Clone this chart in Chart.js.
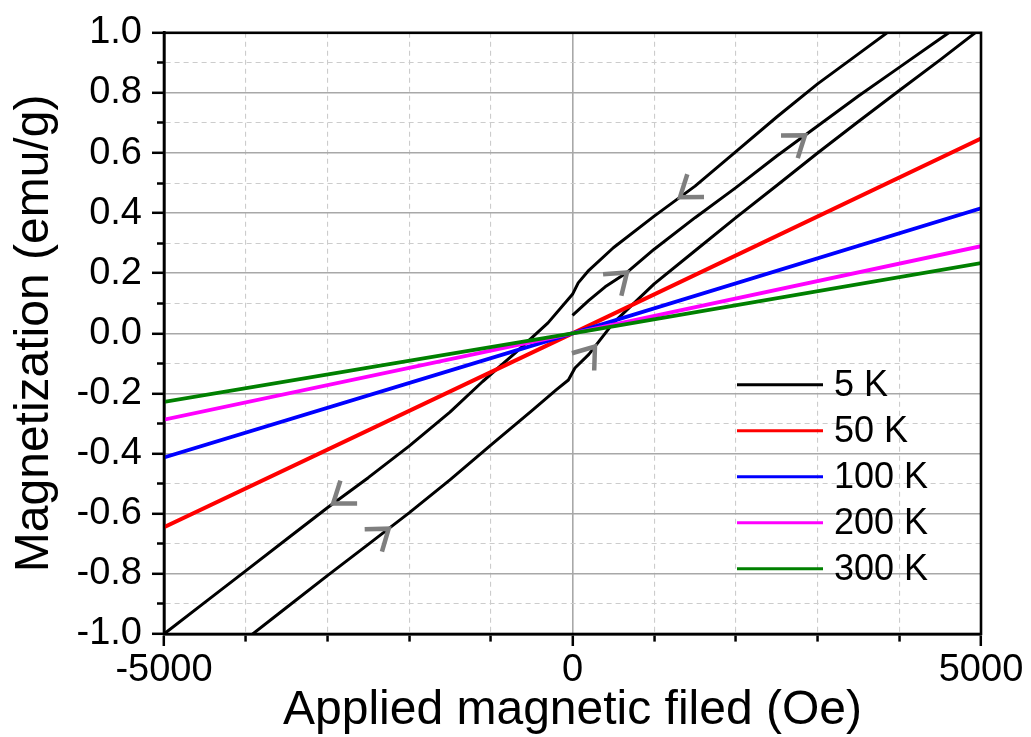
<!DOCTYPE html>
<html>
<head>
<meta charset="utf-8">
<script src="https://cdn.jsdelivr.net/npm/chart.js@4/dist/chart.umd.min.js"></script>
<style>
html,body{margin:0;padding:0;background:#ffffff;overflow:hidden}
canvas{display:block}
</style>
</head>
<body>
<canvas id="c" width="1031" height="737"></canvas>
<script>
// ---------------- data ----------------
// 5 K: initial (virgin) curve, 0 -> +5000 Oe
const H_5K_VIRGIN = [0, 200, 400, 663, 1000, 1500, 2000, 2500, 3000, 3500, 4000, 4500, 5000];
const M_5K_VIRGIN = [0.06, 0.11, 0.155, 0.202, 0.28, 0.385, 0.485, 0.59, 0.69, 0.79, 0.885, 0.98, 1.075];
// 5 K: descending branch, +5000 -> -5000 Oe
const H_5K_DOWN = [5000, 4500, 4000, 3500, 3000, 2500, 2000, 1500, 1000, 500, 200, 70, 0, -300, -700, -1100, -1500, -2000, -2500, -3000, -3500, -4000, -4500, -5000];
const M_5K_DOWN = [1.23, 1.125, 1.03, 0.93, 0.83, 0.72, 0.605, 0.49, 0.39, 0.285, 0.21, 0.168, 0.13, 0.035, -0.065, -0.16, -0.262, -0.375, -0.48, -0.58, -0.685, -0.79, -0.895, -1.0];
// 5 K: ascending branch, -5000 -> +5000 Oe
const H_5K_UP = [-5000, -4500, -4000, -3500, -3000, -2500, -2000, -1500, -1000, -500, -200, -50, 30, 200, 500, 1000, 1500, 2000, 2500, 3000, 3500, 4000, 4500, 5000];
const M_5K_UP = [-1.225, -1.12, -1.018, -0.912, -0.806, -0.702, -0.597, -0.487, -0.372, -0.258, -0.188, -0.155, -0.115, -0.07, 0.035, 0.165, 0.275, 0.385, 0.492, 0.6, 0.705, 0.808, 0.91, 1.015];
// higher temperatures (linear)
const H_LINEAR = [-5000, 0, 5000];
const M_50K  = [-0.645, 0, 0.648];
const M_100K = [-0.413, 0, 0.416];
const M_200K = [-0.287, 0, 0.290];
const M_300K = [-0.228, 0, 0.234];

// legend
const LEGEND_LABELS = ['5 K', '50 K', '100 K', '200 K', '300 K'];
const LEGEND_COLORS = ['#000000', '#ff0000', '#0000ff', '#ff00ff', '#008000'];

// tick labels
const X_LABELED_TICKS = [-5000, 0, 5000];
const X_TICK_LABELS = ['-5000', '0', '5000'];
const Y_TICK_LABELS = ['-1.0', '-0.8', '-0.6', '-0.4', '-0.2', '0.0', '0.2', '0.4', '0.6', '0.8', '1.0'];

// sweep-direction arrows: branch, field position, direction (+1 = increasing field)
const ARROW_BRANCH = ['down', 'virgin', 'virgin', 'up', 'down', 'up'];
const ARROW_FIELD  = [1316, 2846, 667, 275, -2930, -2250];
const ARROW_DIR    = [-1, 1, 1, 1, -1, 1];

// ---------------- helpers ----------------
const pts = (hs, ms) => hs.map((h, i) => ({x: h, y: ms[i]}));
const BRANCHES = {
  virgin: [H_5K_VIRGIN, M_5K_VIRGIN],
  down: [H_5K_DOWN, M_5K_DOWN],
  up: [H_5K_UP, M_5K_UP]
};
const FONT = "'Liberation Sans', Arial, Helvetica, sans-serif";
const isMajorX = v => Math.abs(v % 5000) < 1e-6;
const isMajorY = v => Math.abs(Math.round(v * 10)) % 2 === 0;

const lineDs = (label, data, color, width, order) => ({
  label, data, borderColor: color, backgroundColor: color, borderWidth: width,
  pointRadius: 0, pointHoverRadius: 0, fill: false, tension: 0, order,
  borderJoinStyle: 'round'
});

// frame, arrows and legend
const decorations = {
  id: 'decorations',
  afterDatasetsDraw(chart) {
    const {ctx, chartArea: a, scales: {x, y}} = chart;
    // arrows
    ctx.save();
    ctx.strokeStyle = '#7f7f7f';
    ctx.lineWidth = 4.5;
    ctx.lineCap = 'butt';
    ctx.lineJoin = 'miter';
    ARROW_FIELD.forEach((h, k) => {
      const [hs, ms] = BRANCHES[ARROW_BRANCH[k]];
      let i = 0;
      for (; i < hs.length - 1; i++) {
        const lo = Math.min(hs[i], hs[i + 1]), hi = Math.max(hs[i], hs[i + 1]);
        if (h >= lo && h <= hi) break;
      }
      const t = (h - hs[i]) / (hs[i + 1] - hs[i]);
      const m = ms[i] + t * (ms[i + 1] - ms[i]);
      const px = x.getPixelForValue(h), py = y.getPixelForValue(m);
      const lo = hs[i] < hs[i + 1] ? i : i + 1, hi = lo === i ? i + 1 : i;
      let dx = x.getPixelForValue(hs[hi]) - x.getPixelForValue(hs[lo]);
      let dy = y.getPixelForValue(ms[hi]) - y.getPixelForValue(ms[lo]);
      const len = Math.hypot(dx, dy);
      dx /= len; dy /= len;
      const bx = -ARROW_DIR[k] * dx, by = -ARROW_DIR[k] * dy;
      const ang = 36 * Math.PI / 180, L = 24;
      const r = (s) => [bx * Math.cos(s) - by * Math.sin(s), bx * Math.sin(s) + by * Math.cos(s)];
      const [ax1, ay1] = r(ang), [ax2, ay2] = r(-ang);
      ctx.beginPath();
      ctx.moveTo(px + ax1 * L, py + ay1 * L);
      ctx.lineTo(px, py);
      ctx.lineTo(px + ax2 * L, py + ay2 * L);
      ctx.stroke();
    });
    ctx.restore();
    // frame
    ctx.save();
    ctx.strokeStyle = '#000';
    ctx.lineWidth = 2.6;
    ctx.strokeRect(a.left, a.top, a.right - a.left, a.bottom - a.top);
    ctx.restore();
  },
  afterDraw(chart) {
    const {ctx, chartArea: a} = chart;
    ctx.save();
    const x0 = a.right - 244, x1 = a.right - 158, tx = a.right - 147;
    const y0 = a.top + 352, dyRow = 46;
    ctx.font = '36px ' + FONT;
    ctx.textBaseline = 'middle';
    ctx.textAlign = 'left';
    LEGEND_LABELS.forEach((lab, i) => {
      const yy = y0 + i * dyRow;
      ctx.strokeStyle = LEGEND_COLORS[i];
      ctx.lineWidth = 3;
      ctx.beginPath();
      ctx.moveTo(x0, yy);
      ctx.lineTo(x1, yy);
      ctx.stroke();
      ctx.fillStyle = '#000';
      ctx.fillText(lab, tx, yy + 1);
    });
    ctx.restore();
  }
};

new Chart(document.getElementById('c'), {
  type: 'line',
  data: {
    datasets: [
      lineDs('5 K', pts(H_5K_VIRGIN, M_5K_VIRGIN), '#000000', 3, 7),
      lineDs('5 K', pts(H_5K_DOWN, M_5K_DOWN), '#000000', 3, 6),
      lineDs('5 K', pts(H_5K_UP, M_5K_UP), '#000000', 3, 5),
      lineDs('50 K', pts(H_LINEAR, M_50K), '#ff0000', 4, 4),
      lineDs('100 K', pts(H_LINEAR, M_100K), '#0000ff', 3.8, 3),
      lineDs('200 K', pts(H_LINEAR, M_200K), '#ff00ff', 3.8, 2),
      lineDs('300 K', pts(H_LINEAR, M_300K), '#008000', 3.8, 1)
    ]
  },
  options: {
    responsive: false,
    animation: false,
    devicePixelRatio: 1,
    events: [],
    layout: {padding: {top: 31, right: 50, left: 0, bottom: 0}},
    plugins: {legend: {display: false}, tooltip: {enabled: false}, title: {display: false}},
    scales: {
      x: {
        type: 'linear', position: 'bottom', min: -5000, max: 5000,
        afterFit: s => { s.height = 103; },
        ticks: {
          stepSize: 1000, autoSkip: false, maxRotation: 0, padding: 2, color: '#000',
          font: {family: FONT, size: 38},
          callback: v => { const k = X_LABELED_TICKS.indexOf(v); return k >= 0 ? X_TICK_LABELS[k] : ''; }
        },
        grid: {
          color: c => isMajorX(c.tick.value) ? '#a8a8a8' : '#cccccc',
          lineWidth: c => isMajorX(c.tick.value) ? 1.6 : 1.1,
          drawTicks: true, tickLength: 12, tickWidth: 2.5, tickColor: '#000',
          tickBorderDash: c => isMajorX(c.tick.value) ? [] : [6, 40]
        },
        border: {display: true, color: '#000', width: 2.6,
          dash: c => (c.tick && !isMajorX(c.tick.value)) ? [5, 4] : []},
        title: {display: true, text: 'Applied magnetic filed (Oe)', color: '#000',
          font: {family: FONT, size: 48, lineHeight: 1.1}, padding: {top: 0, bottom: 0}}
      },
      y: {
        type: 'linear', position: 'left', min: -1, max: 1,
        afterFit: s => { s.width = 164; },
        ticks: {
          stepSize: 0.1, autoSkip: false, padding: 10, color: '#000',
          font: {family: FONT, size: 38},
          callback: (v, i) => (i % 2 === 0 ? Y_TICK_LABELS[i / 2] : '')
        },
        grid: {
          color: c => isMajorY(c.tick.value) ? '#a8a8a8' : '#cccccc',
          lineWidth: c => isMajorY(c.tick.value) ? 1.6 : 1.1,
          drawTicks: true, tickLength: 12, tickWidth: 2.5, tickColor: '#000',
          tickBorderDash: c => isMajorY(c.tick.value) ? [] : [0, 5, 8, 40]
        },
        border: {display: true, color: '#000', width: 2.6,
          dash: c => (c.tick && !isMajorY(c.tick.value)) ? [5, 4] : []},
        title: {display: true, text: 'Magnetization (emu/g)', color: '#000',
          font: {family: FONT, size: 48, lineHeight: 1.1}, padding: {top: 8, bottom: 0}}
      }
    }
  },
  plugins: [decorations]
});
</script>
</body>
</html>
